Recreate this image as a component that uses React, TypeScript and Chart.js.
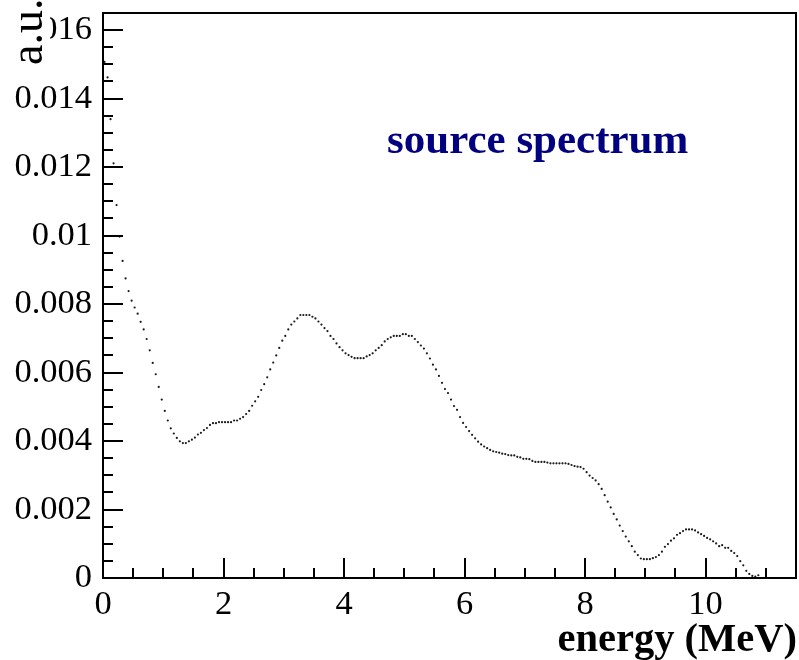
import { useEffect, useRef } from "react";
import { Chart, registerables } from "chart.js";

Chart.register(...registerables);

// Histogram binning of the source spectrum (MeV)
const BIN_WIDTH = 0.05;
const FIRST_BIN_CENTER = 0.025;
// Spectrum contents per bin, in units of 1e-3 a.u.
const VALUE_UNIT = 1e-3;
const spectrum = [
  15.07, 14.62, 13.4, 12.11, 10.89, 9.97, 9.26, 8.75, 8.38, 8.1,
  7.9, 7.72, 7.48, 7.26, 6.98, 6.65, 6.28, 5.95, 5.58, 5.21,
  4.88, 4.6, 4.37, 4.22, 4.09, 3.99, 3.94, 3.94, 3.99, 4.04,
  4.1, 4.19, 4.24, 4.32, 4.38, 4.47, 4.52, 4.52, 4.55, 4.55,
  4.55, 4.55, 4.55, 4.6, 4.6, 4.65, 4.7, 4.79, 4.88, 5.03,
  5.16, 5.29, 5.49, 5.66, 5.86, 6.09, 6.29, 6.5, 6.72, 6.93,
  7.07, 7.26, 7.4, 7.49, 7.58, 7.68, 7.68, 7.68, 7.68, 7.63,
  7.58, 7.49, 7.4, 7.3, 7.21, 7.07, 6.98, 6.85, 6.74, 6.65,
  6.56, 6.51, 6.46, 6.42, 6.42, 6.42, 6.42, 6.47, 6.51, 6.56,
  6.65, 6.72, 6.8, 6.91, 6.98, 7.03, 7.07, 7.07, 7.07, 7.12,
  7.12, 7.07, 7.07, 6.98, 6.89, 6.79, 6.7, 6.56, 6.41, 6.23,
  6.09, 5.9, 5.7, 5.52, 5.4, 5.21, 5.02, 4.91, 4.7, 4.53,
  4.41, 4.29, 4.18, 4.08, 3.98, 3.9, 3.84, 3.79, 3.74, 3.7,
  3.68, 3.66, 3.63, 3.62, 3.59, 3.58, 3.58, 3.54, 3.52, 3.48,
  3.48, 3.47, 3.42, 3.39, 3.39, 3.39, 3.39, 3.37, 3.35, 3.35,
  3.35, 3.35, 3.35, 3.35, 3.33, 3.3, 3.27, 3.25, 3.24, 3.19,
  3.09, 2.99, 2.92, 2.85, 2.74, 2.6, 2.42, 2.23, 2.06, 1.87,
  1.71, 1.53, 1.37, 1.21, 1.07, 0.93, 0.77, 0.67, 0.57, 0.55,
  0.55, 0.55, 0.58, 0.61, 0.67, 0.77, 0.91, 0.99, 1.09, 1.16,
  1.26, 1.31, 1.37, 1.42, 1.42, 1.42, 1.39, 1.33, 1.28, 1.23,
  1.17, 1.13, 1.07, 1.01, 0.93, 0.96, 0.88, 0.88, 0.79, 0.73,
  0.64, 0.49, 0.37, 0.21, 0.12, 0.06, 0.04, 0.08,
];

// Axis ranges and tick marks
const X_MIN = 0;
const X_MAX = 11.5;
const Y_MIN = 0;
const Y_MAX = 0.0165;
const xTickValues = [0, 2, 4, 6, 8, 10];
const xTickLabels = ["0", "2", "4", "6", "8", "10"];
const xMinorStep = 0.5;
const yTickValues = [0, 0.002, 0.004, 0.006, 0.008, 0.01, 0.012, 0.014, 0.016];
const yTickLabels = ["0", "0.002", "0.004", "0.006", "0.008", "0.01", "0.012", "0.014", "0.016"];
const yMinorStep = 0.0005;

const xTitle = "energy (MeV)";
const yTitle = "a.u.";
const caption = "source spectrum";

const SERIF = "'Liberation Serif', 'Times New Roman', serif";

const framePlugin = {
  id: "rootFrame",
  afterDraw(chart: any) {
    const { ctx, chartArea } = chart;
    const xs = chart.scales.x;
    const ys = chart.scales.y;
    const { left, right, top, bottom } = chartArea;
    ctx.save();
    ctx.strokeStyle = "#000";
    ctx.lineWidth = 2;
    ctx.lineCap = "butt";

    // inward ticks on the bottom axis
    ctx.beginPath();
    const nx = Math.round((X_MAX - X_MIN) / xMinorStep);
    for (let k = 1; k < nx; k++) {
      const v = X_MIN + k * xMinorStep;
      const major = xTickValues.some((t) => Math.abs(t - v) < 1e-9);
      const px = Math.round(xs.getPixelForValue(v));
      ctx.moveTo(px, bottom);
      ctx.lineTo(px, bottom - (major ? 20 : 10));
    }
    // inward ticks on the left axis
    const ny = Math.round((Y_MAX - Y_MIN) / yMinorStep);
    for (let k = 1; k < ny; k++) {
      const v = Y_MIN + k * yMinorStep;
      const major = yTickValues.some((t) => Math.abs(t - v) < 1e-9);
      const py = Math.round(ys.getPixelForValue(v));
      ctx.moveTo(left, py);
      ctx.lineTo(left + (major ? 20 : 10), py);
    }
    ctx.stroke();

    // frame
    ctx.strokeRect(left, top, right - left, bottom - top);

    // caption inside the frame
    ctx.fillStyle = "#000080";
    ctx.font = `bold 43px ${SERIF}`;
    ctx.textAlign = "left";
    ctx.textBaseline = "alphabetic";
    ctx.fillText(caption, 387, 153);

    // x axis title
    ctx.fillStyle = "#000";
    ctx.font = `bold 40.5px ${SERIF}`;
    ctx.textAlign = "right";
    ctx.fillText(xTitle, 797, 651);

    // y axis title on a white patch
    ctx.fillStyle = "#fff";
    ctx.fillRect(0, 0, 50, 56);
    ctx.fillStyle = "#000";
    ctx.font = `46px ${SERIF}`;
    ctx.textAlign = "left";
    ctx.translate(42, 65);
    ctx.rotate(-Math.PI / 2);
    ctx.fillText(yTitle, 0, 0);
    ctx.restore();
  },
};

export default function App() {
  const canvasRef = useRef<HTMLCanvasElement | null>(null);

  useEffect(() => {
    const canvas = canvasRef.current;
    if (!canvas) return;
    const points = spectrum.map((v, i) => ({
      x: FIRST_BIN_CENTER + i * BIN_WIDTH,
      y: v * VALUE_UNIT,
    }));
    const chart = new Chart(canvas, {
      type: "scatter",
      data: {
        datasets: [
          {
            data: points,
            showLine: false,
            pointRadius: 1.1,
            pointHoverRadius: 1.1,
            pointBackgroundColor: "#1a1a1a",
            pointBorderWidth: 0,
          },
        ],
      },
      plugins: [framePlugin],
      options: {
        animation: false,
        responsive: false,
        devicePixelRatio: 1,
        layout: { padding: { left: 0, top: 13, right: 3, bottom: 0 } },
        plugins: {
          legend: { display: false },
          tooltip: { enabled: false },
        },
        scales: {
          x: {
            type: "linear",
            min: X_MIN,
            max: X_MAX,
            grid: { display: false, drawTicks: false },
            border: { display: false },
            afterFit(scale: any) {
              scale.height = 82;
              scale.paddingLeft = 0;
              scale.paddingRight = 0;
            },
            afterBuildTicks(scale: any) {
              scale.ticks = xTickValues.map((value) => ({ value }));
            },
            ticks: {
              autoSkip: false,
              maxRotation: 0,
              padding: 6,
              color: "#000",
              font: { family: SERIF, size: 34.5 },
              callback: (value: any) => {
                const i = xTickValues.findIndex((t) => Math.abs(t - Number(value)) < 1e-9);
                return i >= 0 ? xTickLabels[i] : "";
              },
            },
          },
          y: {
            type: "linear",
            min: Y_MIN,
            max: Y_MAX,
            grid: { display: false, drawTicks: false },
            border: { display: false },
            afterFit(scale: any) {
              scale.width = 103;
              scale.paddingTop = 0;
              scale.paddingBottom = 0;
            },
            afterBuildTicks(scale: any) {
              scale.ticks = yTickValues.map((value) => ({ value }));
            },
            ticks: {
              autoSkip: false,
              padding: 11,
              color: "#000",
              font: { family: SERIF, size: 34.5 },
              callback: (value: any) => {
                const i = yTickValues.findIndex((t) => Math.abs(t - Number(value)) < 1e-12);
                return i >= 0 ? yTickLabels[i] : "";
              },
            },
          },
        },
      },
    });
    return () => chart.destroy();
  }, []);

  return (
    <div style={{ position: "fixed", left: 0, top: 0, width: 799, height: 660, background: "#fff" }}>
      <canvas ref={canvasRef} width={799} height={660} />
    </div>
  );
}
